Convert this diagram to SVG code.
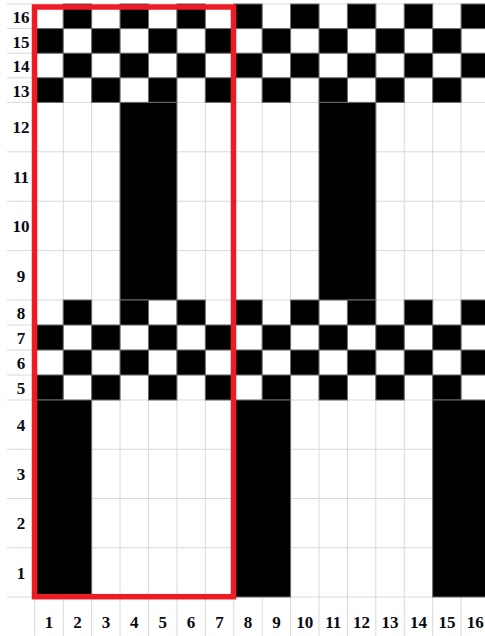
<svg xmlns="http://www.w3.org/2000/svg" width="485" height="636" viewBox="0 0 485 636">
<style>
.g{stroke:#d9d9d9;stroke-width:1;fill:none}
.k{fill:#000;stroke:#6a6a6a;stroke-width:1}
.t{font-family:"Liberation Serif","Times New Roman",serif;font-weight:bold;font-size:17px;fill:#0a0a14;text-anchor:middle}
</style>
<rect width="485" height="636" fill="#fff"/>
<g id="gridlines">
<path class="g" d="M7 4H485M7 28.6H485M7 53.2H485M7 77.8H485M7 102.4H485M7 151.8H485M7 201.2H485M7 250.6H485M7 300H485M7 325H485M7 350H485M7 375H485M7 400H485M7 449.25H485M7 498.5H485M7 547.75H485M7 597H485"/>
<path class="g" d="M34.8 4V636M63.22 4V636M91.64 4V636M120.06 4V636M148.48 4V636M176.9 4V636M205.32 4V636M233.74 4V636M262.16 4V636M290.58 4V636M319 4V636M347.42 4V636M375.84 4V636M404.26 4V636M432.68 4V636M461.1 4V636"/>
</g>
<g id="cells">
<g id="row16" transform="translate(0,4)">
<rect class="k" x="63.22" y="0" width="28.42" height="24.6"/><rect class="k" x="120.06" y="0" width="28.42" height="24.6"/><rect class="k" x="176.9" y="0" width="28.42" height="24.6"/><rect class="k" x="233.74" y="0" width="28.42" height="24.6"/><rect class="k" x="290.58" y="0" width="28.42" height="24.6"/><rect class="k" x="347.42" y="0" width="28.42" height="24.6"/><rect class="k" x="404.26" y="0" width="28.42" height="24.6"/><rect class="k" x="461.1" y="0" width="28.42" height="24.6"/>
</g>
<g id="row15" transform="translate(0,28.6)">
<rect class="k" x="34.8" y="0" width="28.42" height="24.6"/><rect class="k" x="91.64" y="0" width="28.42" height="24.6"/><rect class="k" x="148.48" y="0" width="28.42" height="24.6"/><rect class="k" x="205.32" y="0" width="28.42" height="24.6"/><rect class="k" x="262.16" y="0" width="28.42" height="24.6"/><rect class="k" x="319" y="0" width="28.42" height="24.6"/><rect class="k" x="375.84" y="0" width="28.42" height="24.6"/><rect class="k" x="432.68" y="0" width="28.42" height="24.6"/>
</g>
<g id="row14" transform="translate(0,53.2)">
<rect class="k" x="63.22" y="0" width="28.42" height="24.6"/><rect class="k" x="120.06" y="0" width="28.42" height="24.6"/><rect class="k" x="176.9" y="0" width="28.42" height="24.6"/><rect class="k" x="233.74" y="0" width="28.42" height="24.6"/><rect class="k" x="290.58" y="0" width="28.42" height="24.6"/><rect class="k" x="347.42" y="0" width="28.42" height="24.6"/><rect class="k" x="404.26" y="0" width="28.42" height="24.6"/><rect class="k" x="461.1" y="0" width="28.42" height="24.6"/>
</g>
<g id="row13" transform="translate(0,77.8)">
<rect class="k" x="34.8" y="0" width="28.42" height="24.6"/><rect class="k" x="91.64" y="0" width="28.42" height="24.6"/><rect class="k" x="148.48" y="0" width="28.42" height="24.6"/><rect class="k" x="205.32" y="0" width="28.42" height="24.6"/><rect class="k" x="262.16" y="0" width="28.42" height="24.6"/><rect class="k" x="319" y="0" width="28.42" height="24.6"/><rect class="k" x="375.84" y="0" width="28.42" height="24.6"/><rect class="k" x="432.68" y="0" width="28.42" height="24.6"/>
</g>
<g id="rows12-9">
<rect class="k" x="120.06" y="102.4" width="56.84" height="197.6"/>
<rect class="k" x="319" y="102.4" width="56.84" height="197.6"/>
</g>
<g id="row8" transform="translate(0,300)">
<rect class="k" x="63.22" y="0" width="28.42" height="25"/><rect class="k" x="120.06" y="0" width="28.42" height="25"/><rect class="k" x="176.9" y="0" width="28.42" height="25"/><rect class="k" x="233.74" y="0" width="28.42" height="25"/><rect class="k" x="290.58" y="0" width="28.42" height="25"/><rect class="k" x="347.42" y="0" width="28.42" height="25"/><rect class="k" x="404.26" y="0" width="28.42" height="25"/><rect class="k" x="461.1" y="0" width="28.42" height="25"/>
</g>
<g id="row7" transform="translate(0,325)">
<rect class="k" x="34.8" y="0" width="28.42" height="25"/><rect class="k" x="91.64" y="0" width="28.42" height="25"/><rect class="k" x="148.48" y="0" width="28.42" height="25"/><rect class="k" x="205.32" y="0" width="28.42" height="25"/><rect class="k" x="262.16" y="0" width="28.42" height="25"/><rect class="k" x="319" y="0" width="28.42" height="25"/><rect class="k" x="375.84" y="0" width="28.42" height="25"/><rect class="k" x="432.68" y="0" width="28.42" height="25"/>
</g>
<g id="row6" transform="translate(0,350)">
<rect class="k" x="63.22" y="0" width="28.42" height="25"/><rect class="k" x="120.06" y="0" width="28.42" height="25"/><rect class="k" x="176.9" y="0" width="28.42" height="25"/><rect class="k" x="233.74" y="0" width="28.42" height="25"/><rect class="k" x="290.58" y="0" width="28.42" height="25"/><rect class="k" x="347.42" y="0" width="28.42" height="25"/><rect class="k" x="404.26" y="0" width="28.42" height="25"/><rect class="k" x="461.1" y="0" width="28.42" height="25"/>
</g>
<g id="row5" transform="translate(0,375)">
<rect class="k" x="34.8" y="0" width="28.42" height="25"/><rect class="k" x="91.64" y="0" width="28.42" height="25"/><rect class="k" x="148.48" y="0" width="28.42" height="25"/><rect class="k" x="205.32" y="0" width="28.42" height="25"/><rect class="k" x="262.16" y="0" width="28.42" height="25"/><rect class="k" x="319" y="0" width="28.42" height="25"/><rect class="k" x="375.84" y="0" width="28.42" height="25"/><rect class="k" x="432.68" y="0" width="28.42" height="25"/>
</g>
<g id="rows4-1">
<rect class="k" x="34.8" y="400" width="56.84" height="197"/>
<rect class="k" x="233.74" y="400" width="56.84" height="197"/>
<rect class="k" x="432.68" y="400" width="56.84" height="197"/>
</g>
</g>
<g id="row-labels" class="t">
<text x="21" y="23">16</text>
<text x="21" y="47.5">15</text>
<text x="21" y="72">14</text>
<text x="21" y="96.5">13</text>
<text x="21" y="133">12</text>
<text x="21" y="182.5">11</text>
<text x="21" y="232">10</text>
<text x="21" y="281.5">9</text>
<text x="21" y="318.5">8</text>
<text x="21" y="343.5">7</text>
<text x="21" y="368.5">6</text>
<text x="21" y="393.5">5</text>
<text x="21" y="430.5">4</text>
<text x="21" y="480">3</text>
<text x="21" y="529">2</text>
<text x="21" y="578.5">1</text>
</g>
<g id="col-labels" class="t">
<text x="49" y="628">1</text>
<text x="77.4" y="628">2</text>
<text x="105.9" y="628">3</text>
<text x="134.3" y="628">4</text>
<text x="162.7" y="628">5</text>
<text x="191.1" y="628">6</text>
<text x="219.5" y="628">7</text>
<text x="248" y="628">8</text>
<text x="276.4" y="628">9</text>
<text x="304.8" y="628">10</text>
<text x="333.2" y="628">11</text>
<text x="361.6" y="628">12</text>
<text x="390" y="628">13</text>
<text x="418.5" y="628">14</text>
<text x="446.9" y="628">15</text>
<text x="475.3" y="628">16</text>
</g>
<rect id="highlight" x="34.5" y="7" width="199" height="589.7" fill="none" stroke="#ed1c24" stroke-width="5.5"/>
</svg>
